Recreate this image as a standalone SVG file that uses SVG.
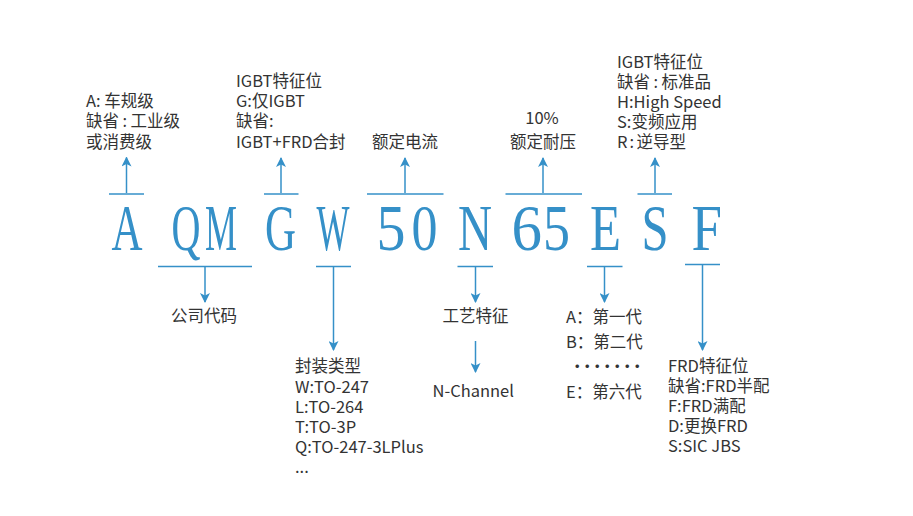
<svg xmlns="http://www.w3.org/2000/svg" width="913" height="516" viewBox="0 0 913 516">
<defs>
<marker id="ah" viewBox="0 0 10 10" refX="9" refY="5" markerWidth="10" markerHeight="10" markerUnits="userSpaceOnUse" orient="auto">
<path d="M0,0 L10,5 L0,10 L2.5,5 z" fill="#3590c8"/>
</marker>
<style>
.code{font-family:"Liberation Serif","Times New Roman",serif;font-size:66.5px;fill:#3590c8}
.lbl{font-family:"Noto Sans CJK SC","Noto Sans",sans-serif;font-size:16.5px;fill:#333}
.bar{stroke:#3590c8;stroke-width:1.5;fill:none}
.arr{stroke:#3590c8;stroke-width:1.5;fill:none;marker-end:url(#ah)}
</style>
</defs>
<rect width="913" height="516" fill="#fff"/>

<g id="code-A"><text class="code" x="111.5" y="250" textLength="31" lengthAdjust="spacingAndGlyphs">A</text></g>
<g id="code-QM"><text class="code" x="171.5" y="250" textLength="29" lengthAdjust="spacingAndGlyphs">Q</text><text class="code" x="205" y="250" textLength="32" lengthAdjust="spacingAndGlyphs">M</text></g>
<g id="code-G"><text class="code" x="265" y="250" textLength="31" lengthAdjust="spacingAndGlyphs">G</text></g>
<g id="code-W"><text class="code" x="316.5" y="250" textLength="33" lengthAdjust="spacingAndGlyphs">W</text></g>
<g id="code-50"><text class="code" x="376.5" y="250" textLength="29" lengthAdjust="spacingAndGlyphs">5</text><text class="code" x="411.5" y="250" textLength="26" lengthAdjust="spacingAndGlyphs">0</text></g>
<g id="code-N"><text class="code" x="458" y="250" textLength="34" lengthAdjust="spacingAndGlyphs">N</text></g>
<g id="code-65"><text class="code" x="511.5" y="250" textLength="30.5" lengthAdjust="spacingAndGlyphs">6</text><text class="code" x="543" y="250" textLength="27" lengthAdjust="spacingAndGlyphs">5</text></g>
<g id="code-E"><text class="code" x="590" y="250" textLength="31" lengthAdjust="spacingAndGlyphs">E</text></g>
<g id="code-S"><text class="code" x="641.5" y="250" textLength="27" lengthAdjust="spacingAndGlyphs">S</text></g>
<g id="code-F"><text class="code" x="691.5" y="250" textLength="30.5" lengthAdjust="spacingAndGlyphs">F</text></g>

<g id="label-A"><text class="lbl"><tspan x="86" y="106.5">A: 车规级</tspan><tspan x="86" y="127">缺省</tspan><tspan dx="3.5">:</tspan><tspan dx="3.5">工业级</tspan><tspan x="86" y="147.5">或消费级</tspan></text></g>
<g id="label-G"><text class="lbl"><tspan x="236" y="86.5">IGBT特征位</tspan><tspan x="236" y="106.5">G:仅IGBT</tspan><tspan x="236" y="127">缺省:</tspan><tspan x="236" y="147.5">IGBT+FRD合封</tspan></text></g>
<g id="label-50"><text class="lbl" x="405" y="148" text-anchor="middle">额定电流</text></g>
<g id="label-65"><text class="lbl" text-anchor="middle"><tspan x="542" y="124">10%</tspan><tspan x="543" y="148">额定耐压</tspan></text></g>
<g id="label-S"><text class="lbl"><tspan x="617" y="68">IGBT特征位</tspan><tspan x="617" y="88">缺省</tspan><tspan dx="3.5">:</tspan><tspan dx="3.5">标准品</tspan><tspan x="617" y="108">H:High Speed</tspan><tspan x="617" y="128">S:变频应用</tspan><tspan x="617" y="148">R</tspan><tspan dx="2">:</tspan><tspan dx="2.5">逆导型</tspan></text></g>
<g id="label-QM"><text class="lbl" x="204" y="322" text-anchor="middle">公司代码</text></g>
<g id="label-W"><text class="lbl"><tspan x="295" y="372">封装类型</tspan><tspan x="295" y="392.5">W:TO-247</tspan><tspan x="295" y="412.5">L:TO-264</tspan><tspan x="295" y="432.5">T:TO-3P</tspan><tspan x="295" y="452.5">Q:TO-247-3LPlus</tspan><tspan x="295" y="472.5">...</tspan></text></g>
<g id="label-N"><text class="lbl" x="475.5" y="322" text-anchor="middle">工艺特征</text></g>
<g id="label-N2"><text class="lbl" x="432.5" y="396.5">N-Channel</text></g>
<g id="label-E"><text class="lbl"><tspan x="566" y="323">A：第一代</tspan><tspan x="566" y="348">B：第二代</tspan><tspan x="569 579 589 599 609 619 629" y="373">·······</tspan><tspan x="566" y="398">E：第六代</tspan></text></g>
<g id="label-F"><text class="lbl"><tspan x="668" y="371.5">FRD特征位</tspan><tspan x="668" y="391.5">缺省:FRD半配</tspan><tspan x="668" y="411.5">F:FRD满配</tspan><tspan x="668" y="431.5">D:更换FRD</tspan><tspan x="668" y="451.5">S:SIC JBS</tspan></text></g>

<g id="connectors">
<line class="bar" x1="109" y1="194" x2="144" y2="194"/>
<line class="arr" x1="126.5" y1="193" x2="126.5" y2="157.5"/>
<line class="bar" x1="264" y1="194" x2="298.5" y2="194"/>
<line class="arr" x1="281" y1="193" x2="281" y2="158"/>
<line class="bar" x1="367" y1="194" x2="443.5" y2="194"/>
<line class="arr" x1="405" y1="193" x2="405" y2="158"/>
<line class="bar" x1="505.5" y1="194" x2="582" y2="194"/>
<line class="arr" x1="543" y1="193" x2="543" y2="158"/>
<line class="bar" x1="637.5" y1="194" x2="672" y2="194"/>
<line class="arr" x1="655" y1="193" x2="655" y2="158"/>

<line class="bar" x1="158" y1="266.5" x2="252" y2="266.5"/>
<line class="arr" x1="205" y1="267" x2="205" y2="302"/>
<line class="bar" x1="316" y1="266.5" x2="351" y2="266.5"/>
<line class="arr" x1="333.5" y1="267" x2="333.5" y2="350"/>
<line class="bar" x1="457.5" y1="266.5" x2="493" y2="266.5"/>
<line class="arr" x1="475.5" y1="267" x2="475.5" y2="302"/>
<line class="arr" x1="475.5" y1="341" x2="475.5" y2="372"/>
<line class="bar" x1="587" y1="266.5" x2="622.5" y2="266.5"/>
<line class="arr" x1="604.5" y1="267" x2="604.5" y2="302"/>
<line class="bar" x1="685" y1="264.5" x2="720" y2="264.5"/>
<line class="arr" x1="702.5" y1="265" x2="702.5" y2="350"/>
</g>
</svg>
